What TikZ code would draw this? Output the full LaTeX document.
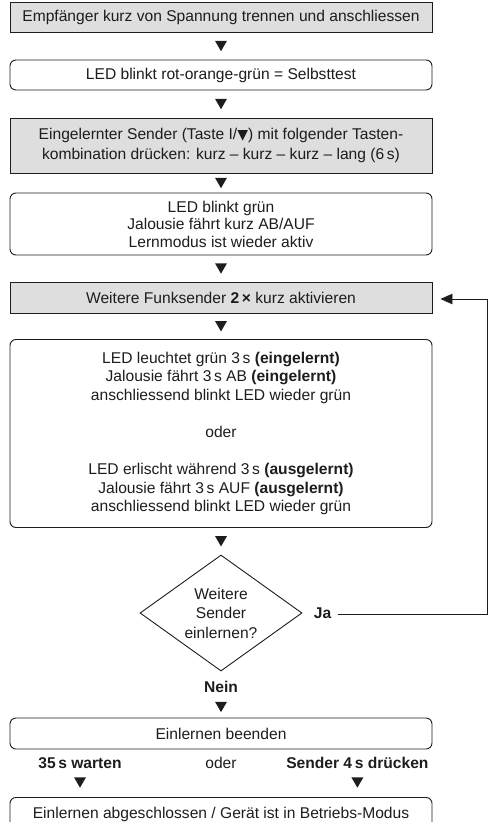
\documentclass[tikz,border=0pt]{standalone}
\usepackage{fontspec}
\setmainfont{Liberation Sans}
\newfontfamily\symfont{DejaVu Sans}
\usetikzlibrary{shapes.geometric,arrows.meta,calc}
\definecolor{boxgray}{RGB}{222,222,222}
\definecolor{ink}{RGB}{30,28,28}
\newcommand{\txt}[1]{\fontsize{15.6}{#1}\selectfont}
\tikzset{
  every node/.style={text=ink, font=\txt{18}},
  stepbox/.style={draw=ink, line width=0.9pt, minimum width=422pt,
    inner sep=0pt, align=center},
  graybox/.style={stepbox, fill=boxgray},
  roundbox/.style={stepbox, rounded corners=6pt},
  tri/.style={regular polygon, regular polygon sides=3, shape border rotate=180,
    fill=ink, draw=none, minimum size=13.8pt, inner sep=0pt, yshift=1.7pt},
  decision/.style={diamond, draw=ink, line width=0.9pt, aspect=1.4,
    minimum width=162pt, minimum height=116pt, inner sep=0pt, align=center},
  flowline/.style={draw=ink, line width=0.9pt},
}
\begin{document}
\begin{tikzpicture}[x=1pt, y=-1pt]
\useasboundingbox (0,0) rectangle (488,822);

% process steps
\node[graybox, minimum height=30pt] (b1) at (221,17)
  {Empfänger kurz von Spannung trennen und anschliessen};
\node[roundbox, minimum height=30pt] (b2) at (221,75)
  {LED blinkt rot-orange-grün = Selbsttest};
\node[graybox, minimum height=55pt, font=\txt{20}] (b3) at (221,145.5)
  {Eingelernter Sender (Taste I/{\symfont\fontsize{14}{14}\selectfont ▼}) mit folgender Tasten-\\
   kombination drücken: kurz -- kurz -- kurz -- lang (6\,s)};
\node[roundbox, minimum height=62pt, font=\txt{17.5}] (b4) at (221,224)
  {LED blinkt grün\\ Jalousie fährt kurz AB/AUF\\ Lernmodus ist wieder aktiv};
\node[graybox, minimum height=31pt] (b5) at (221,297.5)
  {Weitere Funksender \textbf{2\,×} kurz aktivieren};
\node[roundbox, minimum height=188pt, font=\txt{18.6}] (b6) at (221,433.5)
  {LED leuchtet grün 3\,s \textbf{(eingelernt)}\\
   Jalousie fährt 3\,s AB \textbf{(eingelernt)}\\
   anschliessend blinkt LED wieder grün\\[18.6pt]
   oder\\[18.6pt]
   LED erlischt während 3\,s \textbf{(ausgelernt)}\\
   Jalousie fährt 3\,s AUF \textbf{(ausgelernt)}\\
   anschliessend blinkt LED wieder grün};

% decision
\node[decision, font=\txt{19.5}] (d) at (221,613)
  {Weitere\\ Sender\\ einlernen?};
\node[font=\txt{18}\bfseries] (ja) at (322.5,613) {Ja};
\node[font=\txt{18}\bfseries] (nein) at (221,687) {Nein};

\node[roundbox, minimum height=31pt] (b7) at (221,733.5) {Einlernen beenden};
\node[font=\txt{18}\bfseries] (wait) at (80,763) {35\,s warten};
\node (oder) at (221,763) {oder};
\node[font=\txt{18}\bfseries, anchor=east] (press) at (432,763)
  {Sender 4\,s drücken};
\node[roundbox, minimum height=34pt, anchor=north] (b8) at (221,797)
  {\raisebox{1pt}{Einlernen abgeschlossen / Gerät ist in Betriebs-Modus}};

% downward markers between the steps
\node[tri] (t1) at ($(b1.south)!0.5!(b2.north)$) {};
\node[tri] (t2) at ($(b2.south)!0.5!(b3.north)$) {};
\node[tri] (t3) at ($(b3.south)!0.5!(b4.north)$) {};
\node[tri] (t4) at ($(b4.south)!0.5!(b5.north)$) {};
\node[tri] (t5) at ($(b5.south)!0.5!(b6.north)$) {};
\node[tri] (t6) at ($(b6.south)!0.5!(d.north)$) {};
\node[tri] (t7) at ($(nein.south)!0.5!(b7.north)$) {};
\node[tri] (t8) at (wait |- 0,782.5) {};
\node[tri] (t9) at (press |- 0,782.5) {};

% loop back for further senders
\coordinate (c1) at (487,614);
\draw[flowline, -{Triangle[length=12pt,width=10.5pt]}]
  ([xshift=3pt,yshift=-1pt]ja.east) -- (c1) |- ([xshift=8pt,yshift=-1.5pt]b5.east);
\end{tikzpicture}
\end{document}
